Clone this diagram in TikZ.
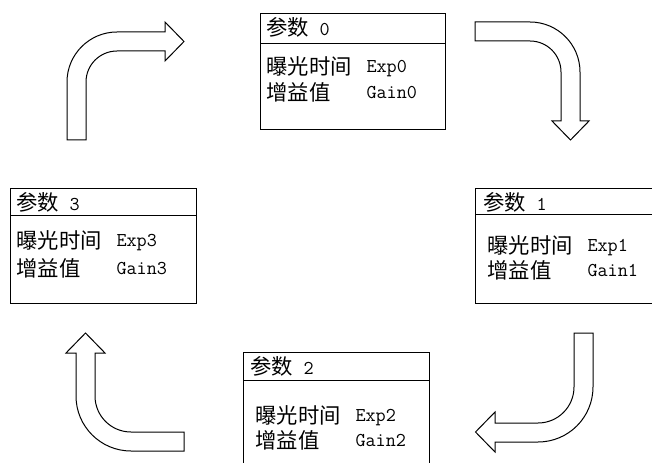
\documentclass[tikz,border=0pt]{standalone}
\usepackage{fontspec}
\newfontfamily\cjk{Noto Sans CJK SC}
\usetikzlibrary{fit}
\begin{document}
\begin{tikzpicture}[x=0.75pt,y=-0.75pt,line width=0.75pt,
  parbox/.style={draw,rectangle,inner sep=0pt},
  cj/.style={font=\cjk\fontsize{16}{18}\selectfont,inner sep=0pt,anchor=base west},
  lt/.style={font=\ttfamily\fontsize{14.7}{18}\selectfont,inner sep=0pt,anchor=base west},
  bigarrow/.style={draw,line width=0.75pt,line join=miter}]
\useasboundingbox (0,0) rectangle (652,463);
\clip (0,0) rectangle (652,463);

% ---- box 0 ----
\node[parbox,fit={(260,14) (445,130)}] (b0) {};
\draw (260,44) -- (445,44);
\node[cj] (b0t) at (266,36) {参数};
\node[lt] (b0n) at (319,36) {0};
\node[cj] (b0a) at (266,75) {曝光时间};
\node[lt] (b0b) at (366,73) {Exp0};
\node[cj] (b0c) at (266,101) {增益值};
\node[lt] (b0d) at (366,99) {Gain0};

% ---- box 1 ----
\node[parbox,fit={(475,189) (656,303)}] (b1) {};
\draw (475,214) -- (656,214);
\node[cj] (b1t) at (483,210) {参数};
\node[lt] (b1n) at (536,210) {1};
\node[cj] (b1a) at (487,253) {曝光时间};
\node[lt] (b1b) at (587,251) {Exp1};
\node[cj] (b1c) at (487,278) {增益值};
\node[lt] (b1d) at (587,276) {Gain1};

% ---- box 2 ----
\node[parbox,fit={(243,352) (429,475)}] (b2) {};
\draw (243,380) -- (429,380);
\node[cj] (b2t) at (250,374) {参数};
\node[lt] (b2n) at (303,374) {2};
\node[cj] (b2a) at (255,423) {曝光时间};
\node[lt] (b2b) at (355,421) {Exp2};
\node[cj] (b2c) at (255,448) {增益值};
\node[lt] (b2d) at (355,446) {Gain2};

% ---- box 3 ----
\node[parbox,fit={(10,189) (196,303)}] (b3) {};
\draw (10,215) -- (196,215);
\node[cj] (b3t) at (16,210) {参数};
\node[lt] (b3n) at (69,210) {3};
\node[cj] (b3a) at (16,248) {曝光时间};
\node[lt] (b3b) at (116,246) {Exp3};
\node[cj] (b3c) at (16,276) {增益值};
\node[lt] (b3d) at (116,274) {Gain3};

% ---- arrow top-left (up then right) ----
\draw[bigarrow] (67,140) -- (67,82) arc[start angle=180,end angle=270,radius=50]
  -- (165,32) -- (165,22) -- (184,41.5) -- (165,61) -- (165,51) -- (117,51)
  arc[start angle=270,end angle=180,radius=31] -- (86,140) -- cycle;

% ---- arrow top-right (right then down) ----
\draw[bigarrow] (475,22) -- (530,22) arc[start angle=270,end angle=360,radius=50]
  -- (580,121) -- (589,121) -- (570.5,140) -- (552,121) -- (561,121) -- (561,72)
  arc[start angle=0,end angle=-90,radius=31] -- (475,41) -- cycle;

% ---- arrow bottom-right (down then left) ----
\draw[bigarrow] (574,333) -- (593,333) -- (593,387) arc[start angle=0,end angle=90,radius=55]
  -- (495,442) -- (495,452) -- (475.5,432) -- (495,412) -- (495,423) -- (538,423)
  arc[start angle=90,end angle=0,radius=36] -- cycle;

% ---- arrow bottom-left (left then up) ----
\draw[bigarrow] (184,451) -- (131,451) arc[start angle=90,end angle=180,radius=55]
  -- (76,353) -- (66,353) -- (85.5,333) -- (105,353) -- (95,353) -- (95,396)
  arc[start angle=180,end angle=90,radius=36] -- (184,432) -- cycle;
\end{tikzpicture}
\end{document}
